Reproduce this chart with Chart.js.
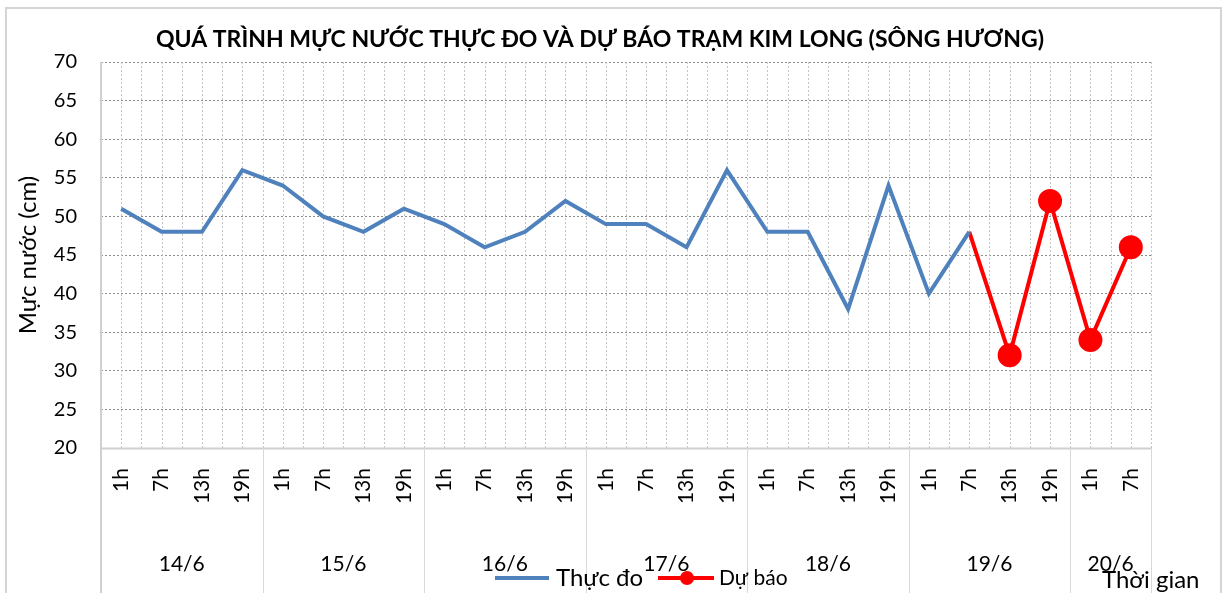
<!DOCTYPE html>
<html>
<head>
<meta charset="utf-8">
<script src="https://cdn.jsdelivr.net/npm/chart.js@4.4.1/dist/chart.umd.min.js"></script>
<style>
  body { margin: 0; background: #fff; }
  #wrap { position: relative; width: 1224px; height: 593px; }
</style>
</head>
<body>
<div id="wrap"><canvas id="chart" width="1224" height="593"></canvas></div>
<script>
// data
const hourLabels = ["1h","7h","13h","19h", "1h","7h","13h","19h", "1h","7h","13h","19h",
                    "1h","7h","13h","19h", "1h","7h","13h","19h", "1h","7h","13h","19h",
                    "1h","7h"];
const dayLabels = ["14/6","15/6","16/6","17/6","18/6","19/6","20/6"];
const daySpans = [4,4,4,4,4,4,2];
const measured = [51,48,48,56, 54,50,48,51, 49,46,48,52, 49,49,46,56, 48,48,38,54, 40,48,
                  null,null,null,null];
const forecast = [null,null,null,null, null,null,null,null, null,null,null,null,
                  null,null,null,null, null,null,null,null, null,48,32,52,34,46];
const yTicks = { min: 20, max: 70, step: 5 };

const titleText = "QUÁ TRÌNH MỰC NƯỚC THỰC ĐO VÀ DỰ BÁO TRẠM KIM LONG (SÔNG HƯƠNG)";
const FONT = "Lato, 'Noto Sans', sans-serif";

/* extra drawing: vertical grid, day groups, legend, title */
const decor = {
    id: "decor",
    beforeDatasetsDraw(chart) {
        const ctx = chart.ctx, x = chart.scales.x, a = chart.chartArea;
        const step = x.getPixelForValue(1) - x.getPixelForValue(0);
        ctx.save();
        ctx.strokeStyle = "#c4c4c4";
        ctx.lineWidth = 1;
        ctx.setLineDash([2, 2]);
        for (let i = 0; i < hourLabels.length; i++) {
            const c = Math.round(x.getPixelForValue(i)) + 0.5;
            const b = Math.round(x.getPixelForValue(i) + step / 2) + 0.5;
            [c, b].forEach(px => {
                ctx.beginPath();
                ctx.moveTo(px, a.top);
                ctx.lineTo(px, a.bottom);
                ctx.stroke();
            });
        }
        ctx.restore();
    },
    afterDraw(chart) {
        const ctx = chart.ctx, x = chart.scales.x, a = chart.chartArea;
        const step = x.getPixelForValue(1) - x.getPixelForValue(0);
        ctx.save();

        // axis lines
        ctx.strokeStyle = "#d0d0d0";
        ctx.lineWidth = 2;
        ctx.beginPath();
        ctx.moveTo(a.left, a.top);
        ctx.lineTo(a.left, chart.height);
        ctx.moveTo(a.left, a.bottom + 0.5);
        ctx.lineTo(a.right, a.bottom + 0.5);
        ctx.stroke();

        // day separators and labels
        let idx = 0;
        ctx.fillStyle = "#000";
        ctx.font = "21px " + FONT;
        ctx.textAlign = "center";
        ctx.textBaseline = "middle";
        dayLabels.forEach((d, k) => {
            const x0 = x.getPixelForValue(idx) - step / 2;
            const x1 = x.getPixelForValue(idx + daySpans[k] - 1) + step / 2;
            ctx.strokeStyle = "#d9d9d9";
            ctx.lineWidth = 1;
            ctx.beginPath();
            ctx.moveTo(Math.round(x1) + 0.5, a.bottom);
            ctx.lineTo(Math.round(x1) + 0.5, chart.height);
            ctx.stroke();
            ctx.fillText(d, (x0 + x1) / 2, 564);
            idx += daySpans[k];
        });

        // title
        ctx.font = "bold 23px " + FONT;
        ctx.fillText(titleText, 600, 40);

        // legend
        const ds = chart.data.datasets;
        const ly = 578;
        ctx.textAlign = "left";
        ctx.font = "24px " + FONT;
        ctx.lineWidth = 4;
        ctx.strokeStyle = ds[0].borderColor;
        ctx.beginPath(); ctx.moveTo(495, ly); ctx.lineTo(549, ly); ctx.stroke();
        ctx.fillStyle = "#000";
        ctx.fillText(ds[0].label, 556, ly);
        ctx.strokeStyle = ds[1].borderColor;
        ctx.beginPath(); ctx.moveTo(658, ly); ctx.lineTo(714, ly); ctx.stroke();
        ctx.fillStyle = ds[1].pointBackgroundColor;
        ctx.beginPath(); ctx.arc(687, ly, 7, 0, Math.PI * 2); ctx.fill();
        ctx.fillStyle = "#000";
        ctx.font = "21px " + FONT;
        ctx.fillText(ds[1].label, 719, ly);

        // x axis name
        ctx.font = "24px " + FONT;
        ctx.fillText("Thời gian", 1102, 580);

        // outer frame
        ctx.strokeStyle = "#d4d4d4";
        ctx.lineWidth = 2;
        ctx.strokeRect(6, 8, 1215, 600);
        ctx.restore();
    }
};

new Chart(document.getElementById("chart"), {
    type: "line",
    data: {
        labels: hourLabels,
        datasets: [
            {
                label: "Thực đo",
                data: measured,
                borderColor: "#4F81BD",
                borderWidth: 4,
                pointRadius: 0,
                tension: 0,
                spanGaps: false
            },
            {
                label: "Dự báo",
                data: forecast,
                borderColor: "#FF0000",
                pointBackgroundColor: "#FF0000",
                pointBorderColor: "#FF0000",
                borderWidth: 4,
                pointRadius: c => c.dataIndex === 21 ? 0 : 10,
                tension: 0
            }
        ]
    },
    options: {
        responsive: false,
        animation: false,
        layout: { padding: { top: 62, right: 73, bottom: 0, left: 0 } },
        plugins: {
            legend: { display: false },
            title: { display: false },
            tooltip: { enabled: false }
        },
        scales: {
            x: {
                offset: true,
                grid: { display: false, drawTicks: false },
                border: { display: false },
                afterFit: s => { s.height = 145; },
                ticks: {
                    autoSkip: false,
                    minRotation: 90,
                    maxRotation: 90,
                    padding: 20,
                    color: "#000",
                    font: { family: FONT, size: 21 }
                }
            },
            y: {
                min: yTicks.min,
                max: yTicks.max,
                afterFit: s => { s.width = 101; },
                grid: { color: "#8c8c8c", drawTicks: false },
                border: { display: false, dash: [2, 2] },
                ticks: {
                    stepSize: yTicks.step,
                    padding: 24,
                    color: "#000",
                    font: { family: FONT, size: 20 }
                },
                title: {
                    display: true,
                    text: "Mực nước (cm)",
                    color: "#000",
                    padding: { top: 14, bottom: 0 },
                    font: { family: FONT, size: 24 }
                }
            }
        }
    },
    plugins: [decor]
});
</script>
</body>
</html>
